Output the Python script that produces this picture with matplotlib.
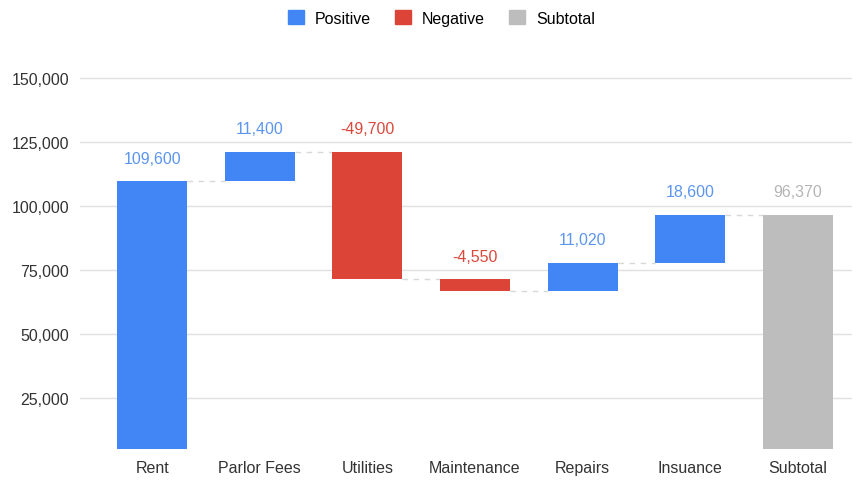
import numpy as np
import matplotlib.pyplot as plt
from matplotlib.patches import Patch
from matplotlib.ticker import FuncFormatter

plt.rcParams["font.family"] = ["Liberation Sans", "DejaVu Sans"]

categories = ["Rent", "Parlor Fees", "Utilities", "Maintenance", "Repairs", "Insuance", "Subtotal"]
changes = [109600, 11400, -49700, -4550, 11020, 18600]
subtotal = 96370

BLUE = "#4285F4"
RED = "#DB4437"
GREY = "#BDBDBD"
Y_MIN = 5000

# pozicie stlpcov waterfallu
ends = np.cumsum(changes)
starts = np.concatenate([[Y_MIN], ends[:-1]])

fig = plt.figure(figsize=(8.62, 4.81), dpi=100)
ax = fig.add_axes([0.093, 0.0645, 0.895, 0.787])

x = np.arange(len(categories))
w = 0.65
for i, v in enumerate(changes):
    lo, hi = sorted([starts[i], ends[i]])
    col = BLUE if v >= 0 else RED
    ax.bar(x[i], hi - lo, bottom=lo, width=w, color=col, zorder=3)
    txt_col = "#5B95F0" if v >= 0 else "#D9483B"
    ax.text(x[i], hi + 6200, f"{v:,}", ha="center", va="bottom", fontsize=11.5, color=txt_col)

ax.bar(x[-1], subtotal - Y_MIN, bottom=Y_MIN, width=w, color=GREY, zorder=3)
ax.text(x[-1], subtotal + 6200, f"{subtotal:,}", ha="center", va="bottom", fontsize=11.5, color="#B5B5B5")

# spojovacie ciary
for i in range(len(ends)):
    ax.plot([x[i] + w / 2, x[i + 1] - w / 2], [ends[i], ends[i]],
            ls=(0, (4, 4)), color="#D8D8D8", lw=1, zorder=2)

ax.set_xlim(-0.67, 6.5)
ax.set_ylim(Y_MIN, 153000)
ax.set_yticks([25000, 50000, 75000, 100000, 125000, 150000])
ax.yaxis.set_major_formatter(FuncFormatter(lambda v, p: f"{int(v):,}"))
ax.grid(axis="y", color="#E0E0E0", lw=1, zorder=0)
ax.set_xticks(x)
ax.set_xticklabels(categories)
ax.tick_params(axis="both", length=0, labelsize=11.5, labelcolor="#333333")
ax.tick_params(axis="x", pad=8)
ax.tick_params(axis="y", pad=8)
for s in ax.spines.values():
    s.set_visible(False)

handles = [Patch(color=BLUE, label="Positive"), Patch(color=RED, label="Negative"),
           Patch(color=GREY, label="Subtotal")]
fig.legend(handles=handles, loc="upper center", bbox_to_anchor=(0.512, 1.007), ncol=3,
           frameon=False, fontsize=11.5, handlelength=1.0, handleheight=1.0,
           columnspacing=1.5, handletextpad=0.7)

fig.savefig("out.png", dpi=100)
